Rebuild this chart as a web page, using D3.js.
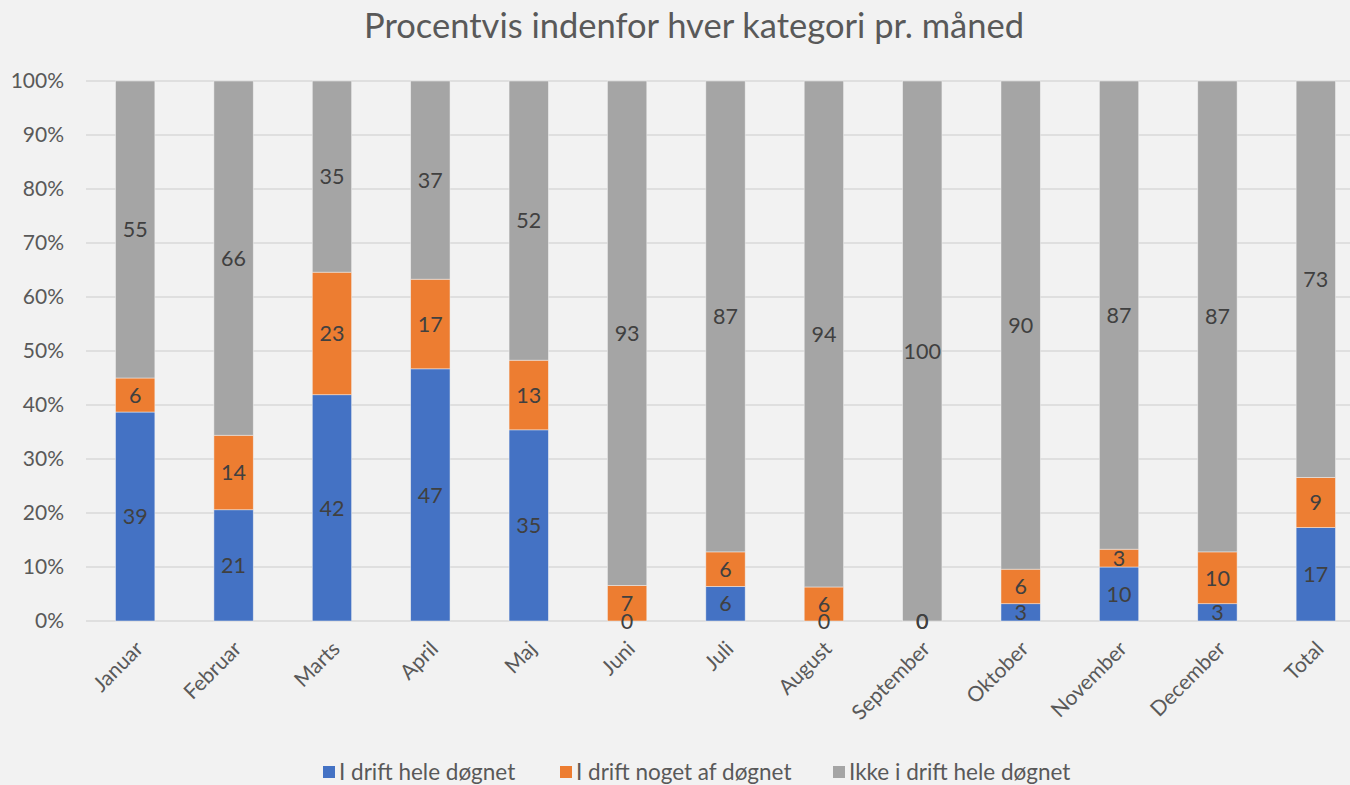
<!DOCTYPE html>
<html>
<head>
<meta charset="utf-8">
<script src="https://cdn.jsdelivr.net/npm/d3@7"></script>
<style>
  body { margin: 0; background: #f2f2f2; }
  svg { display: block; }
</style>
</head>
<body>
<script>
var months = ['Januar', 'Februar', 'Marts', 'April', 'Maj', 'Juni', 'Juli', 'August',
              'September', 'Oktober', 'November', 'December', 'Total'];
var heleDoegnet  = [38.7, 20.6, 41.9, 46.7, 35.4, 0, 6.4, 0, 0, 3.2, 10.0, 3.2, 17.3];
var nogetDoegnet = [6.3, 13.8, 22.7, 16.6, 12.9, 6.6, 6.4, 6.3, 0, 6.4, 3.3, 9.6, 9.3];
var ikkeDoegnet  = [55.0, 65.6, 35.4, 36.7, 51.7, 93.4, 87.2, 93.7, 100, 90.4, 86.7, 87.2, 73.4];
var seriesNames  = ['I drift hele døgnet', 'I drift noget af døgnet', 'Ikke i drift hele døgnet'];
var colors       = ['#4472c4', '#ed7d31', '#a5a5a5'];
var yTicks       = [0, 0.1, 0.2, 0.3, 0.4, 0.5, 0.6, 0.7, 0.8, 0.9, 1];

var width = 1350, height = 785;
var font = 'Lato, Carlito, Calibri, sans-serif';

var svg = d3.select('body').append('svg')
  .attr('width', width)
  .attr('height', height)
  .style('background', '#f2f2f2');

// rows for the stack
var rows = months.map(function(m, i) {
  var tot = heleDoegnet[i] + nogetDoegnet[i] + ikkeDoegnet[i];
  return {month: m, s0: heleDoegnet[i] / tot, s1: nogetDoegnet[i] / tot, s2: ikkeDoegnet[i] / tot,
          v: [heleDoegnet[i], nogetDoegnet[i], ikkeDoegnet[i]]};
});
var stacked = d3.stack().keys(['s0', 's1', 's2'])(rows);

var x = d3.scaleBand().domain(months).range([86, 1365]).paddingInner(0.6).paddingOuter(0.3);
var y = d3.scaleLinear().domain([0, 1]).range([621, 81]);

// title
svg.append('text')
  .attr('x', 694)
  .attr('y', 38)
  .attr('text-anchor', 'middle')
  .style('font-family', font)
  .style('font-size', '34.5px')
  .style('fill', '#595959')
  .text('Procentvis indenfor hver kategori pr. måned');

// grid
svg.append('g').selectAll('line')
  .data(yTicks)
  .enter()
  .append('line')
    .attr('x1', 86)
    .attr('x2', width)
    .attr('y1', function(d) { return y(d); })
    .attr('y2', function(d) { return y(d); })
    .style('stroke', '#d9d9d9')
    .style('stroke-width', 1.5);

// y axis labels
var yAxis = svg.append('g')
  .attr('transform', 'translate(64,0)')
  .call(d3.axisLeft(y).tickValues(yTicks).tickFormat(d3.format('.0%')).tickSize(0).tickPadding(0));
yAxis.select('.domain').remove();
yAxis.selectAll('text')
  .style('font-family', font)
  .style('font-size', '21px')
  .style('fill', '#595959');

// bars
var groups = svg.append('g').selectAll('g')
  .data(stacked)
  .enter()
  .append('g')
    .style('fill', function(d, i) { return colors[i]; });

groups.selectAll('rect')
  .data(function(d) { return d; })
  .enter()
  .append('rect')
    .attr('x', function(d) { return x(d.data.month); })
    .attr('width', x.bandwidth())
    .attr('y', function(d) { return y(d[1]); })
    .attr('height', function(d) { return y(d[0]) - y(d[1]); })
    .style('stroke', '#f2f2f2')
    .style('stroke-width', 0.7)
    .style('stroke-opacity', 0.7);

// data labels (own layer, on top of all bars)
var labels = svg.append('g').selectAll('g')
  .data(stacked)
  .enter()
  .append('g');

labels.each(function(s, si) {
  d3.select(this).selectAll('text')
    .data(s)
    .enter()
    .append('text')
      .attr('x', function(d) { return x(d.data.month) + x.bandwidth() / 2; })
      .attr('y', function(d) { return (y(d[0]) + y(d[1])) / 2; })
      .attr('dy', '0.36em')
      .attr('text-anchor', 'middle')
      .style('font-family', font)
      .style('font-size', '21.5px')
      .style('fill', '#404040')
      .text(function(d) { return Math.round(d.data.v[si]); });
});

// x axis labels
var xAxis = svg.append('g')
  .attr('transform', 'translate(0,621)')
  .call(d3.axisBottom(x).tickSize(0).tickPadding(0));
xAxis.select('.domain').remove();
xAxis.selectAll('text')
  .attr('transform', 'translate(4,24) rotate(-45)')
  .attr('dy', '0.35em')
  .attr('text-anchor', 'end')
  .style('font-family', font)
  .style('font-size', '21px')
  .style('fill', '#595959');

// legend
var legendX = [323, 560, 833];
var legend = svg.append('g').selectAll('g')
  .data(seriesNames)
  .enter()
  .append('g')
    .attr('transform', function(d, i) { return 'translate(' + legendX[i] + ',766)'; });

legend.append('rect')
  .attr('width', 12)
  .attr('height', 12)
  .attr('y', 0)
  .style('fill', function(d, i) { return colors[i]; });

legend.append('text')
  .attr('x', 16)
  .attr('y', 6)
  .attr('dy', '0.36em')
  .style('font-family', font)
  .style('font-size', '22.5px')
  .style('fill', '#595959')
  .text(function(d) { return d; });
</script>
</body>
</html>
